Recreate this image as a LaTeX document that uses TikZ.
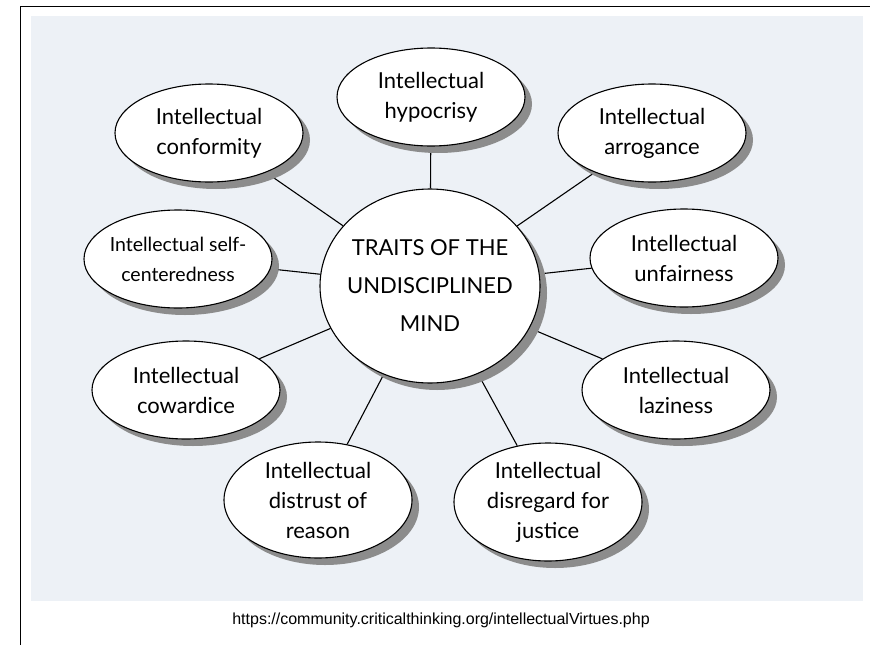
\documentclass[tikz,border=0pt]{standalone}
\usepackage{fontspec}
\setmainfont{Lato}
\newfontfamily\urlfont{Liberation Sans}
\usetikzlibrary{shapes.geometric,shadows,backgrounds}

\definecolor{panelbg}{HTML}{EDF1F6}
\definecolor{shadowgray}{HTML}{8C8C8C}

\tikzset{
  trait/.style={ellipse, draw=black, fill=white, line width=1.1pt, inner sep=-20pt,
    minimum width=188pt, minimum height=98pt, align=center,
    font=\fontsize{22}{30}\selectfont,
    drop shadow={shadow xshift=7pt, shadow yshift=-7pt, fill=shadowgray, opacity=1}},
  hub/.style={trait, minimum width=220pt, minimum height=194pt,
    font=\fontsize{22}{38}\selectfont},
  spoke/.style={line width=1.1pt, black}
}

\begin{document}
\begin{tikzpicture}[x=1pt, y=-1pt]
    \useasboundingbox (0,0) rectangle (875,645);

    % frame and caption
    \draw[line width=1pt] (20,645) -- (20,6) -- (870,6);
    \node[font=\urlfont\fontsize{16}{18}\selectfont] (source) at (441,620)
      {https://community.criticalthinking.org/intellectualVirtues.php};

    % centre and traits
    \node[hub] (mind) at (430,286) {TRAITS OF THE\\UNDISCIPLINED\\MIND};
    \node[trait] (hypocrisy) at (431,97) {Intellectual\\hypocrisy};
    \node[trait] (conformity) at (209,133) {Intellectual\\conformity};
    \node[trait] (arrogance) at (652,133) {Intellectual\\arrogance};
    \node[trait, font=\fontsize{19.5}{30}\selectfont] (selfcentred) at (178,259) {Intellectual self-\\centeredness};
    \node[trait] (unfairness) at (684,258) {Intellectual\\unfairness};
    \node[trait] (cowardice) at (186,390) {Intellectual\\cowardice};
    \node[trait] (laziness) at (676,390) {Intellectual\\laziness};
    \node[trait, minimum height=116pt] (distrust) at (318,500) {Intellectual\\distrust of\\reason};
    \node[trait, minimum height=118pt] (disregard) at (548,502) {Intellectual\\disregard for\\justice};

    \begin{pgfonlayer}{background}
      \fill[panelbg] (31,16) rectangle (863,601);
      \foreach \trait in {hypocrisy, conformity, arrogance, selfcentred, unfairness,
                          cowardice, laziness, distrust, disregard}
        \draw[spoke] (mind) -- (\trait);
    \end{pgfonlayer}
  \end{tikzpicture}
\end{document}
